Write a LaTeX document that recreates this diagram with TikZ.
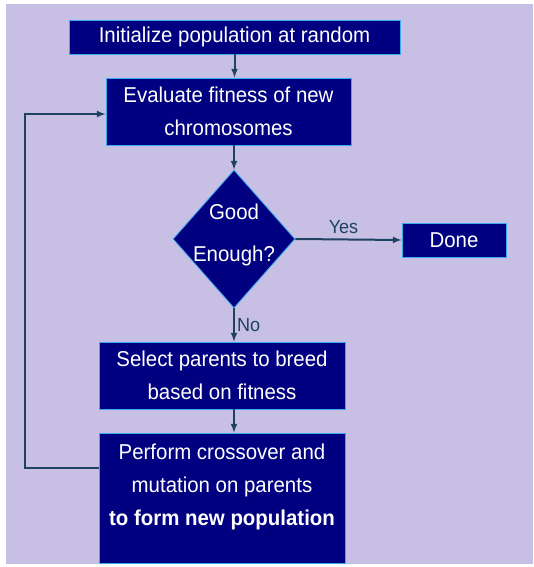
\documentclass[tikz,border=0pt]{standalone}
\usepackage{fontspec}
\setmainfont{Liberation Sans}[FakeStretch=0.95]
\usepackage{xcolor}
\usetikzlibrary{positioning}
\usetikzlibrary{arrows}
\usetikzlibrary{shapes.geometric}
\definecolor{bgcol}{HTML}{C8C0E4}
\definecolor{boxcol}{HTML}{000080}
\definecolor{edgecol}{HTML}{3AAAEE}
\definecolor{linecol}{HTML}{1F4262}
\tikzset{gabox/.style={draw=edgecol, line width=0.8pt, fill=boxcol, text=white,
inner sep=0pt, align=center, font=\fontsize{21.5}{33}\selectfont},
gaflow/.style={draw=linecol, line width=2pt, -latex},
galabel/.style={text=linecol, font=\fontsize{19}{20}\selectfont}}

\begin{document}
\begin{tikzpicture}[x=1pt, y=-1pt]
	\useasboundingbox (0,0) rectangle (533,567);
	\fill[bgcol] (6,4) rectangle (533,564);
	\node[gabox, minimum width=331pt, minimum height=34pt] (init) at (234.5,37) {Initialize population at random};
	\node[gabox, minimum width=245pt, minimum height=67pt] (eval) at (228.5,111.5) {Evaluate fitness of new\\chromosomes};
	\node[gabox, diamond, minimum width=122pt, minimum height=138pt,
		label={[text=white, align=center, yshift=4pt, font=\fontsize{21.5}{42}\selectfont]center:Good\\Enough?}] (good) at (234,239) {};
	\node[gabox, minimum width=104pt, minimum height=34pt] (done) at (454,240) {Done};
	\node[gabox, minimum width=246pt, minimum height=67pt] (select) at (222,375.5) {Select parents to breed\\based on fitness};
	\node[gabox, minimum width=246pt, minimum height=130pt] (perform) at (222,498) {Perform crossover and\\mutation on parents\\\textbf{to form new population}\\[-6pt]\mbox{}};
	\coordinate (backbottom) at (25,468);
	\coordinate (backtop) at (25,114);
	\draw[gaflow] (init) -- (init |- eval.north);
	\draw[gaflow] (eval.south -| good) -- (good.north);
	\draw[gaflow] (good.east) -- node[galabel, above, inner sep=5pt, xshift=-5pt] {Yes} (done.west);
	\draw[gaflow] (good.south) -- node[galabel, right, inner sep=2pt] {No} (good |- select.north);
	\draw[gaflow] (select.south -| good) -- (good |- perform.north);
	\draw[gaflow] (perform.west |- backbottom) -- (backbottom) -- (backtop) -- (eval.west |- backtop);
\end{tikzpicture}
\end{document}
